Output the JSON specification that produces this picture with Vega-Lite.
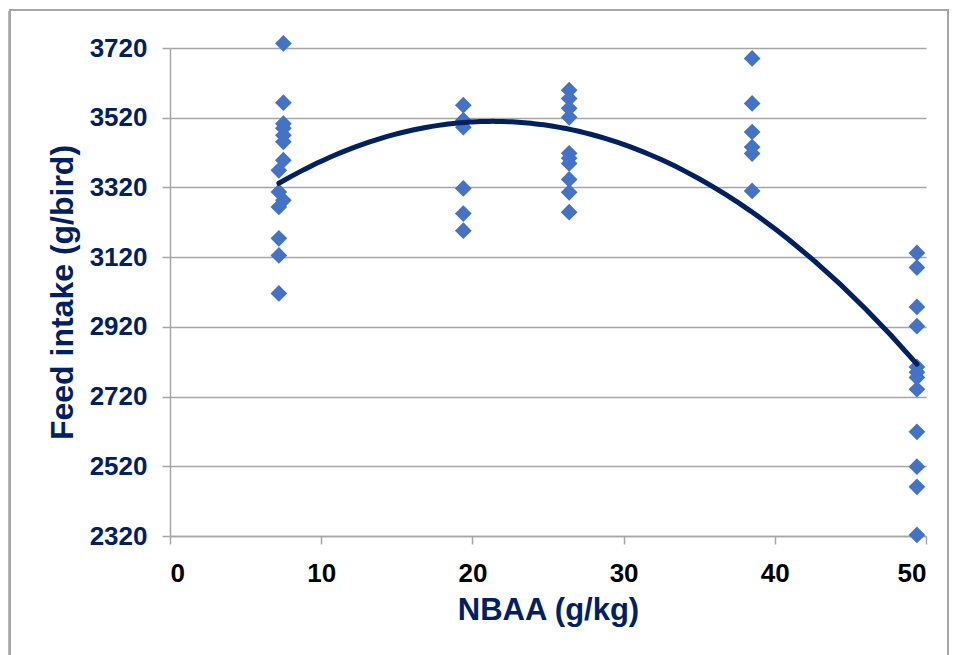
{
  "$schema": "https://vega.github.io/schema/vega-lite/v6.json",
  "width": 756,
  "height": 488,
  "autosize": {"type": "none"},
  "padding": {"left": 170, "top": 48, "right": 30, "bottom": 119},
  "background": "white",
  "config": {
    "view": {"stroke": null},
    "font": "Liberation Sans"
  },
  "data": {
    "values": [
      {"nbaa": 7.5, "feed": 3733}, {"nbaa": 7.5, "feed": 3563}, {"nbaa": 7.5, "feed": 3503},
      {"nbaa": 7.5, "feed": 3490}, {"nbaa": 7.5, "feed": 3470}, {"nbaa": 7.5, "feed": 3451},
      {"nbaa": 7.5, "feed": 3398}, {"nbaa": 7.5, "feed": 3283},
      {"nbaa": 7.2, "feed": 3369}, {"nbaa": 7.2, "feed": 3307}, {"nbaa": 7.2, "feed": 3264},
      {"nbaa": 7.2, "feed": 3174}, {"nbaa": 7.2, "feed": 3125}, {"nbaa": 7.2, "feed": 3016},
      {"nbaa": 19.4, "feed": 3556}, {"nbaa": 19.4, "feed": 3513}, {"nbaa": 19.4, "feed": 3493},
      {"nbaa": 19.4, "feed": 3317}, {"nbaa": 19.4, "feed": 3245}, {"nbaa": 19.4, "feed": 3196},
      {"nbaa": 26.4, "feed": 3599}, {"nbaa": 26.4, "feed": 3575}, {"nbaa": 26.4, "feed": 3547},
      {"nbaa": 26.4, "feed": 3521}, {"nbaa": 26.4, "feed": 3418}, {"nbaa": 26.4, "feed": 3404},
      {"nbaa": 26.4, "feed": 3389}, {"nbaa": 26.4, "feed": 3343}, {"nbaa": 26.4, "feed": 3306},
      {"nbaa": 26.4, "feed": 3249},
      {"nbaa": 38.5, "feed": 3690}, {"nbaa": 38.5, "feed": 3561}, {"nbaa": 38.5, "feed": 3479},
      {"nbaa": 38.5, "feed": 3436}, {"nbaa": 38.5, "feed": 3417}, {"nbaa": 38.5, "feed": 3310},
      {"nbaa": 49.4, "feed": 3132}, {"nbaa": 49.4, "feed": 3090}, {"nbaa": 49.4, "feed": 2977},
      {"nbaa": 49.4, "feed": 2922}, {"nbaa": 49.4, "feed": 2805}, {"nbaa": 49.4, "feed": 2790},
      {"nbaa": 49.4, "feed": 2775}, {"nbaa": 49.4, "feed": 2741}, {"nbaa": 49.4, "feed": 2619},
      {"nbaa": 49.4, "feed": 2519}, {"nbaa": 49.4, "feed": 2461}, {"nbaa": 49.4, "feed": 2323}
    ]
  },
  "encoding": {
    "x": {
      "field": "nbaa", "type": "quantitative",
      "scale": {"domain": [0, 50], "nice": false, "zero": false},
      "axis": {
        "values": [0, 10, 20, 30, 40, 50],
        "format": "d",
        "title": "NBAA (g/kg)",
        "grid": false,
        "domainColor": "#a6a6a6", "domainWidth": 1.5,
        "tickColor": "#a6a6a6", "tickWidth": 1.5, "tickSize": 8,
        "labelFont": "Liberation Sans", "labelFontSize": 26, "labelFontWeight": "bold",
        "labelColor": "#000000", "labelPadding": 16,
        "titleFont": "Liberation Sans", "titleFontSize": 31, "titleFontWeight": "bold",
        "titleColor": "#002060", "titlePadding": 9
      }
    },
    "y": {
      "field": "feed", "type": "quantitative",
      "scale": {"domain": [2320, 3720], "nice": false, "zero": false},
      "axis": {
        "values": [2320, 2520, 2720, 2920, 3120, 3320, 3520, 3720],
        "format": "d",
        "title": "Feed intake (g/bird)",
        "grid": true, "gridColor": "#a6a6a6", "gridWidth": 1.5,
        "domainColor": "#a6a6a6", "domainWidth": 1.5,
        "tickColor": "#a6a6a6", "tickWidth": 1.5, "tickSize": 8,
        "labelFont": "Liberation Sans", "labelFontSize": 26, "labelFontWeight": "bold",
        "labelColor": "#002060", "labelPadding": 15,
        "titleFont": "Liberation Sans", "titleFontSize": 32, "titleFontWeight": "bold",
        "titleColor": "#002060", "titlePadding": 10
      }
    }
  },
  "layer": [
    {
      "mark": {"type": "rect", "fill": null, "stroke": "#a6a6a6", "strokeWidth": 1.5, "clip": false},
      "encoding": {
        "x": {"datum": -10.6, "type": "quantitative"},
        "x2": {"datum": 51.45},
        "y": {"datum": 3830, "type": "quantitative"},
        "y2": {"datum": 1900}
      }
    },
    {
      "mark": {"type": "point", "shape": "diamond", "filled": true, "color": "#4472C4", "size": 280, "opacity": 1}
    },
    {
      "transform": [{"regression": "feed", "on": "nbaa", "method": "poly", "order": 2}],
      "mark": {"type": "line", "color": "#002060", "strokeWidth": 5, "strokeCap": "round"}
    }
  ]
}
